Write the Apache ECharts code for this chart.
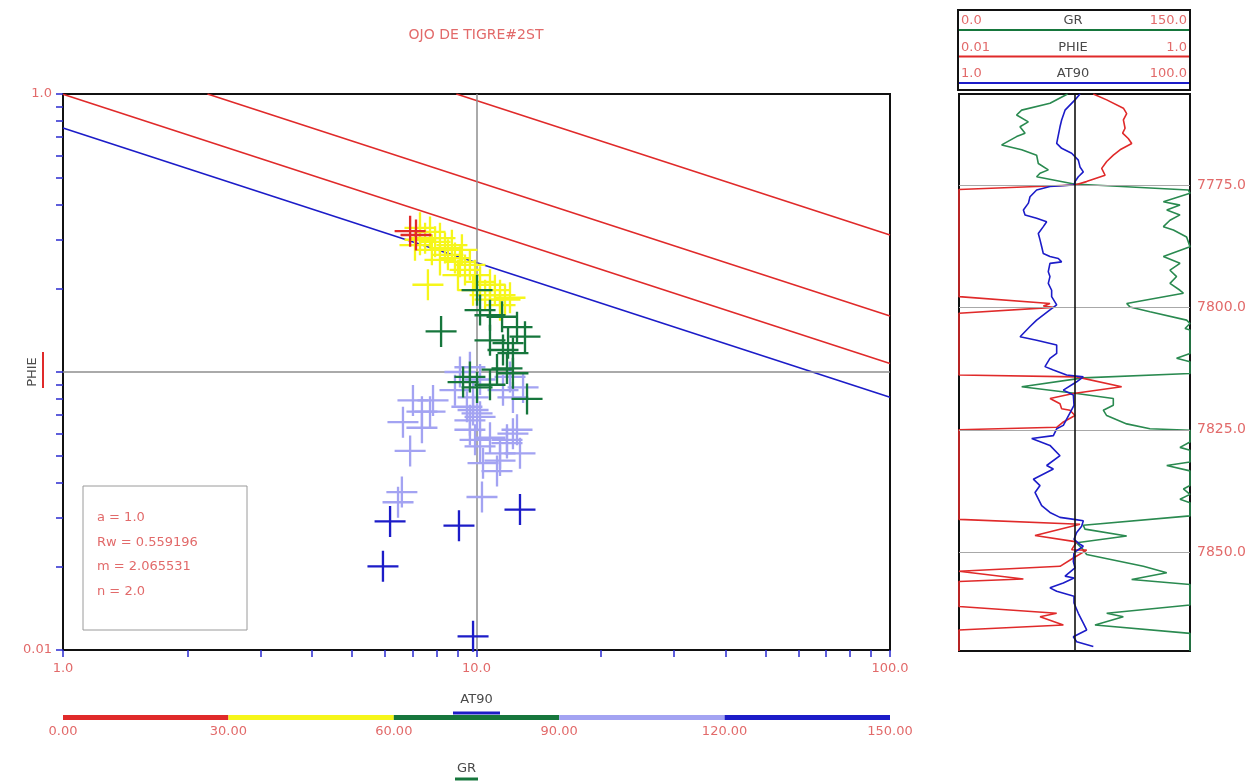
<!DOCTYPE html>
<html>
<head>
<meta charset="utf-8">
<title>OJO DE TIGRE#2ST</title>
<script src="https://cdn.jsdelivr.net/npm/echarts@6.0.0/dist/echarts.min.js"></script>
<style>
  html, body { margin: 0; padding: 0; background: #fff; }
  #chart { width: 1258px; height: 782px; }
</style>
</head>
<body>
<div id="chart"></div>
<script>
// ---- crossplot points [AT90, PHIE], grouped by GR bin ----
const redPts = [[6.91, 0.321], [7.14, 0.311]];
const yellowPts = [
  [7.30, 0.330], [7.51, 0.303], [7.72, 0.319], [7.94, 0.294], [8.16, 0.303], [8.39, 0.279],
  [7.80, 0.275], [8.53, 0.264], [8.87, 0.257], [9.12, 0.249], [8.72, 0.286], [9.38, 0.233],
  [9.64, 0.243], [9.92, 0.223], [10.20, 0.211], [10.78, 0.206], [11.08, 0.197], [11.40, 0.189],
  [11.72, 0.182], [10.49, 0.189], [9.81, 0.197], [11.40, 0.174], [12.05, 0.185], [7.63, 0.206],
  [8.16, 0.253], [9.02, 0.223], [10.78, 0.182], [9.22, 0.275], [7.10, 0.286], [7.30, 0.299]
];
const greenPts = [
  [10.03, 0.197], [8.21, 0.140], [10.20, 0.167], [10.78, 0.160], [11.53, 0.158], [12.53, 0.145],
  [13.10, 0.134], [10.78, 0.130], [11.92, 0.127], [11.59, 0.120], [12.25, 0.117], [11.85, 0.103],
  [11.21, 0.102], [12.25, 0.099], [9.28, 0.092], [9.64, 0.096], [13.25, 0.080], [10.03, 0.088],
  [10.78, 0.090]
];
const lavenderPts = [
  [9.12, 0.100], [9.64, 0.104], [10.20, 0.094], [8.87, 0.086], [9.81, 0.081], [9.48, 0.075],
  [10.03, 0.071], [9.64, 0.067], [10.20, 0.069], [7.38, 0.072], [7.02, 0.079], [7.85, 0.079],
  [6.91, 0.052], [10.20, 0.054], [10.78, 0.058], [11.40, 0.051], [11.85, 0.057], [12.53, 0.062],
  [12.25, 0.081], [11.59, 0.086], [12.96, 0.088], [12.05, 0.096], [9.64, 0.062], [10.37, 0.047],
  [11.21, 0.044], [9.92, 0.057], [6.64, 0.066], [7.38, 0.063], [6.60, 0.037], [6.46, 0.034],
  [7.72, 0.072], [10.31, 0.0355], [12.25, 0.060], [12.74, 0.051], [11.40, 0.048], [11.85, 0.0555],
  [9.81, 0.073]
];
const bluePts = [[6.18, 0.029], [5.94, 0.020], [9.07, 0.028], [12.74, 0.032], [9.81, 0.0112]];

// ---- Archie lines (Sw = 1, 0.75, 0.5, 0.25), end points [AT90, PHIE] ----
const lineSw100 = [[1, 0.755], [100, 0.0812]];
const lineSw75 = [[1, 0.997], [100, 0.1073]];
const lineSw50 = [[2.236, 1], [100, 0.1589]];
const lineSw25 = [[8.94, 1], [100, 0.3108]];
const archieText = ['a = 1.0', 'Rw = 0.559196', 'm = 2.065531', 'n = 2.0'];

// ---- axis ticks / labels ----
const atTicks = [1, 2, 3, 4, 5, 6, 7, 8, 9, 10, 20, 30, 40, 50, 60, 70, 80, 90, 100];
const atLabels = [1, 10, 100];
const phieTicks = [0.01, 0.02, 0.03, 0.04, 0.05, 0.06, 0.07, 0.08, 0.09, 0.1,
  0.2, 0.3, 0.4, 0.5, 0.6, 0.7, 0.8, 0.9, 1];
const phieLabels = [0.01, 1];

// ---- GR colour bins ----
const grBins = [0, 30, 60, 90, 120, 150];

// ---- log track (depth in ft) ----
const depthMarks = [7775, 7800, 7825, 7850];
const grDepth = [
  7756.4, 7758.3, 7759.7, 7760.7, 7762.1, 7763.1, 7764.4, 7765.1, 7766.8, 7767.8, 7768.9, 7770.6,
  7771.9, 7772.6, 7773.3, 7774.8, 7776.0, 7776.7, 7778.4, 7779.1, 7780.1, 7781.1, 7782.2, 7783.5,
  7784.2, 7785.6, 7787.6, 7789.6, 7791.0, 7792.4, 7793.7, 7795.1, 7796.5, 7797.1, 7799.2, 7799.9,
  7800.9, 7802.6, 7803.3, 7804.3, 7804.6, 7809.4, 7810.4, 7811.1, 7813.5, 7814.4, 7816.2, 7817.6,
  7818.6, 7820.0, 7821.0, 7822.1, 7823.8, 7824.8, 7825.1, 7827.5, 7828.6, 7829.2, 7831.6, 7832.3,
  7833.4, 7836.4, 7837.1, 7838.2, 7839.2, 7839.9, 7842.6, 7844.5, 7845.3, 7846.7, 7848.1, 7849.5,
  7850.5, 7852.9, 7854.2, 7855.6, 7856.6, 7860.8, 7862.5, 7863.2, 7864.9, 7866.6, 7870.2
];
const grValue = [
  70.5, 59.1, 40.7, 37.4, 45.0, 39.6, 42.9, 37.4, 27.7, 40.7, 50.4, 51.5,
  58.0, 52.6, 50.4, 74.7, 148.9, 150, 132.7, 143.5, 134.9, 143.5, 137.0, 132.7,
  139.2, 147.8, 150, 132.7, 143.5, 137.0, 141.3, 137.0, 143.5, 145.7, 108.9, 111.0,
  124.0, 147.8, 150, 146.8, 150, 150, 141.3, 150, 150, 80.7, 40.7, 76.4,
  100.2, 100.2, 93.7, 95.9, 108.9, 124.0, 150, 150, 143.5, 150, 150, 134.9,
  150, 150, 145.7, 150, 143.5, 150, 150, 80.7, 81.8, 108.9, 76.4, 80.7,
  82.9, 119.7, 134.9, 112.1, 150, 150, 95.9, 106.7, 88.3, 150, 150
];
const phieDepth = [
  7756.4, 7757.6, 7759.3, 7760.4, 7761.7, 7763.4, 7764.4, 7765.5, 7766.5, 7767.8, 7768.9, 7770.2,
  7771.6, 7773.0, 7774.3, 7775.0, 7775.9, 7797.8, 7799.2, 7799.7, 7800.0, 7801.2, 7813.8, 7814.2,
  7816.2, 7817.6, 7818.6, 7819.7, 7820.7, 7821.0, 7822.1, 7823.4, 7824.5, 7825.0, 7843.3, 7844.3,
  7846.6, 7847.9, 7849.5, 7849.6, 7851.2, 7852.9, 7853.9, 7855.5, 7856.0, 7861.1, 7862.5, 7863.2,
  7864.9, 7865.9, 7870.2
];
const phieValue = [
  0.1455, 0.190, 0.265, 0.283, 0.265, 0.274, 0.261, 0.292, 0.313, 0.248, 0.217, 0.190,
  0.172, 0.184, 0.127, 0.101, 0.01, 0.01, 0.0614, 0.0537, 0.0656, 0.01, 0.01, 0.104,
  0.256, 0.0977, 0.0614, 0.0749, 0.0774, 0.0914, 0.101, 0.0801, 0.0701, 0.01, 0.01, 0.1116,
  0.0455, 0.1044, 0.0945, 0.1274, 0.0977, 0.0749, 0.01, 0.0361, 0.01, 0.01, 0.0701, 0.0503,
  0.0801, 0.01, 0.01
];
const at90Depth = [
  7756.4, 7757.6, 7759.7, 7761.7, 7763.1, 7766.5, 7767.5, 7768.5, 7769.9, 7771.3, 7772.3, 7773.3,
  7774.3, 7775.0, 7775.3, 7776.0, 7777.4, 7778.7, 7780.1, 7781.1, 7781.8, 7782.5, 7783.5, 7784.9,
  7786.2, 7787.6, 7789.0, 7789.6, 7790.0, 7790.7, 7791.0, 7792.7, 7793.7, 7795.1, 7796.5, 7797.8,
  7799.5, 7800.5, 7802.6, 7803.9, 7806.0, 7806.7, 7807.7, 7809.4, 7810.4, 7812.1, 7812.8, 7813.8,
  7814.2, 7815.2, 7816.9, 7817.9, 7820.0, 7824.1, 7824.8, 7826.2, 7826.8, 7828.2, 7830.3, 7832.3,
  7833.0, 7835.1, 7836.4, 7837.8, 7840.5, 7841.9, 7842.9, 7843.3, 7843.6, 7844.7, 7846.0, 7847.4,
  7848.4, 7848.8, 7850.1, 7851.9, 7853.2, 7854.9, 7855.3, 7856.3, 7857.3, 7858.0, 7859.0, 7860.4,
  7862.5, 7864.5, 7865.9, 7867.3, 7868.3, 7869.3
];
const at90Value = [
  11.16, 10.10, 8.28, 7.74, 7.49, 7.01, 7.74, 9.45, 10.79, 11.16, 11.92, 10.79,
  10.10, 9.90, 6.13, 4.70, 4.12, 3.99, 3.61, 3.73, 4.70, 5.74, 5.37, 4.86,
  5.03, 5.20, 5.37, 6.13, 7.24, 7.74, 6.13, 5.93, 6.13, 5.93, 6.34, 6.34,
  7.01, 6.13, 4.70, 4.12, 3.38, 4.70, 7.01, 7.01, 6.13, 5.55, 6.56, 8.55,
  11.92, 10.44, 8.00, 9.77, 9.90, 8.00, 7.01, 6.56, 4.26, 6.13, 7.49, 5.74,
  6.56, 4.40, 5.03, 4.55, 5.20, 6.13, 7.49, 9.90, 11.92, 11.53, 10.44, 9.90,
  11.16, 11.92, 9.90, 9.77, 10.10, 8.28, 9.90, 8.00, 6.13, 7.01, 9.90, 9.90,
  10.79, 11.92, 12.75, 9.77, 10.44, 14.55
];

// ---- styles ----
const C_RED = '#e02a2a';
const C_YELLOW = '#f6f61a';
const C_GREEN = '#16763c';
const C_LAV = '#a3a3f2';
const C_BLUE = '#1c1cc8';
const C_LABEL = '#e26a6a';
const C_TEXT = '#4a4a4a';
const TICK_BLUE = '#2a2ad0';
const FONT = 'DejaVu Sans';
const CROSS = 'path://M0,14.8h32v2.4H0zM14.8,0h2.4v32h-2.4z';

const chart = echarts.init(document.getElementById('chart'));

function crossSeries(name, pts, color) {
  return {
    name: name,
    type: 'scatter',
    xAxisIndex: 0,
    yAxisIndex: 0,
    symbol: CROSS,
    symbolSize: 31,
    data: pts,
    itemStyle: { color: color, opacity: 1 },
    silent: true,
    z: 5
  };
}

function archieSeries(pts, color) {
  return {
    type: 'line',
    xAxisIndex: 0,
    yAxisIndex: 0,
    data: pts,
    symbol: 'none',
    lineStyle: { color: color, width: 1.6 },
    silent: true,
    z: 3
  };
}

function zip(a, b) {
  return a.map((d, i) => [b[i], d]);
}

function trackSeries(idx, depth, values, color) {
  return {
    type: 'line',
    xAxisIndex: idx,
    yAxisIndex: idx,
    data: zip(depth, values),
    symbol: 'none',
    lineStyle: { color: color, width: 1.6 },
    silent: true,
    z: 4
  };
}

const TRACK = { left: 959, top: 94, width: 231, height: 557 };
const depthExtent = { min: 7756.4, max: 7870.2 };

const trackYAxis = idx => ({
  type: 'value', gridIndex: idx, inverse: true,
  min: depthExtent.min, max: depthExtent.max, show: false
});

function txt(text, x, y, fill, align, size) {
  return {
    type: 'text', z: 3,
    style: {
      text: text, x: x, y: y, textAlign: align || 'left', textVerticalAlign: 'middle',
      fill: fill, font: (size || 13) + 'px "' + FONT + '"'
    }
  };
}

// title, log-track header, parameter box
const headerRows = [
  { name: 'GR', lo: '0.0', hi: '150.0', color: C_GREEN },
  { name: 'PHIE', lo: '0.01', hi: '1.0', color: C_RED },
  { name: 'AT90', lo: '1.0', hi: '100.0', color: C_BLUE }
];
const graphics = [
  txt('OJO DE TIGRE#2ST', 476, 35, C_LABEL, 'center', 14),
  {
    type: 'rect', shape: { x: 958, y: 10, width: 232, height: 80 },
    style: { fill: '#fff', stroke: '#111', lineWidth: 2 }, z: 1
  }
];
headerRows.forEach((r, i) => {
  const ly = 30 + i * 26.5;
  graphics.push(
    { type: 'line', shape: { x1: 959, y1: ly, x2: 1189, y2: ly }, style: { stroke: r.color, lineWidth: 2 }, z: 2 },
    txt(r.lo, 961, ly - 9, C_LABEL, 'left', 13),
    txt(r.name, 1073, ly - 9, C_TEXT, 'center', 13),
    txt(r.hi, 1187, ly - 9, C_LABEL, 'right', 13)
  );
});
graphics.push({
  type: 'rect', shape: { x: 83, y: 486, width: 164, height: 144 },
  style: { fill: '#fff', stroke: '#9a9a9a', lineWidth: 1 }, z: 2
});
archieText.forEach((t, i) => {
  graphics.push(txt(t, 97, 518 + i * 24.5, C_LABEL, 'left', 13));
});
// short legend strokes under the axis names
graphics.push(
  { type: 'line', shape: { x1: 453, y1: 713, x2: 500, y2: 713 }, style: { stroke: C_BLUE, lineWidth: 3 }, z: 3 },
  { type: 'line', shape: { x1: 455, y1: 779, x2: 478, y2: 779 }, style: { stroke: C_GREEN, lineWidth: 3 }, z: 3 },
  { type: 'line', shape: { x1: 43, y1: 352, x2: 43, y2: 388 }, style: { stroke: C_RED, lineWidth: 2 }, z: 3 }
);

const option = {
  animation: false,
  backgroundColor: '#fff',
  textStyle: { fontFamily: FONT },
  graphic: graphics,
  grid: [
    { left: 63, top: 94, width: 827, height: 556, show: true, borderColor: '#111', borderWidth: 2, backgroundColor: 'transparent' },
    Object.assign({ show: true, borderColor: '#111', borderWidth: 2 }, TRACK),
    Object.assign({}, TRACK),
    Object.assign({}, TRACK),
    { left: 63, top: 715, width: 827, height: 5 }
  ],
  xAxis: [
    {
      type: 'log', logBase: 10, min: 1, max: 100, gridIndex: 0,
      name: 'AT90', nameLocation: 'middle', nameGap: 43, nameMoveOverlap: false,
      nameTextStyle: { color: C_TEXT, fontSize: 13, fontFamily: FONT },
      axisLine: { onZero: false, lineStyle: { color: '#111', width: 2 } },
      axisTick: { customValues: atTicks, length: 7, lineStyle: { color: TICK_BLUE, width: 1.5 } },
      axisLabel: { customValues: atLabels, formatter: v => Number(v).toFixed(1), color: C_LABEL, fontSize: 13, margin: 12 },
      splitLine: { show: false }
    },
    { type: 'value', gridIndex: 1, min: 0, max: 150, show: false },
    { type: 'log', logBase: 10, gridIndex: 2, min: 0.01, max: 1, show: false },
    { type: 'log', logBase: 10, gridIndex: 3, min: 1, max: 100, show: false },
    {
      type: 'value', gridIndex: 4, min: grBins[0], max: grBins[grBins.length - 1], interval: 30,
      name: 'GR', nameLocation: 'middle', nameGap: 42, nameMoveOverlap: false,
      nameTextStyle: { color: C_TEXT, fontSize: 13, fontFamily: FONT, padding: [0, 20, 0, 0] },
      axisLine: { show: false }, axisTick: { show: false }, splitLine: { show: false },
      axisLabel: { formatter: v => v.toFixed(2), color: C_LABEL, fontSize: 13, margin: 5 }
    }
  ],
  yAxis: [
    {
      type: 'log', logBase: 10, min: 0.01, max: 1, gridIndex: 0,
      name: 'PHIE', nameLocation: 'middle', nameGap: 24, nameRotate: 90, nameMoveOverlap: false,
      nameTextStyle: { color: C_TEXT, fontSize: 13, fontFamily: FONT },
      axisLine: { onZero: false, lineStyle: { color: '#111', width: 2 } },
      axisTick: { customValues: phieTicks, length: 7, lineStyle: { color: TICK_BLUE, width: 1.5 } },
      axisLabel: { customValues: phieLabels, formatter: v => (v >= 1 ? '1.0' : '0.01'), color: C_LABEL, fontSize: 13, margin: 11 },
      splitLine: { show: false }
    },
    trackYAxis(1), trackYAxis(2), trackYAxis(3),
    { type: 'category', gridIndex: 4, data: ['GR'], show: false }
  ],
  series: [
    // crossplot reference lines
    {
      type: 'line', xAxisIndex: 0, yAxisIndex: 0, data: [], silent: true,
      markLine: {
        symbol: 'none', silent: true, label: { show: false },
        lineStyle: { color: '#8e8e8e', width: 1.5, type: 'solid' },
        data: [{ xAxis: 10 }, { yAxis: 0.1 }]
      }
    },
    archieSeries(lineSw100, C_BLUE),
    archieSeries(lineSw75, C_RED),
    archieSeries(lineSw50, C_RED),
    archieSeries(lineSw25, C_RED),
    crossSeries('GR 90-120', lavenderPts, C_LAV),
    crossSeries('GR 30-60', yellowPts, C_YELLOW),
    crossSeries('GR 60-90', greenPts, C_GREEN),
    crossSeries('GR 0-30', redPts, C_RED),
    crossSeries('GR 120-150', bluePts, C_BLUE),
    // log track
    Object.assign(trackSeries(1, grDepth, grValue, '#2a8a50'), {
      markLine: {
        symbol: 'none', silent: true,
        data: depthMarks.map(d => ({
          yAxis: d,
          lineStyle: { color: '#a8a8a8', width: 1, type: 'solid' },
          label: { show: true, position: 'end', distance: 7, formatter: d.toFixed(1), color: C_LABEL, fontSize: 14, fontFamily: FONT }
        })).concat([{
          xAxis: 75,
          lineStyle: { color: '#111', width: 1.6, type: 'solid' },
          label: { show: false }
        }])
      }
    }),
    trackSeries(2, phieDepth, phieValue, C_RED),
    trackSeries(3, at90Depth, at90Value, C_BLUE)
  ].concat([C_RED, C_YELLOW, C_GREEN, C_LAV, C_BLUE].map((c, i) => ({
    type: 'bar', xAxisIndex: 4, yAxisIndex: 4, stack: 'gr', barWidth: 5, silent: true,
    data: [grBins[i + 1] - grBins[i]],
    itemStyle: { color: c }
  })))
};

chart.setOption(option);
</script>
</body>
</html>
